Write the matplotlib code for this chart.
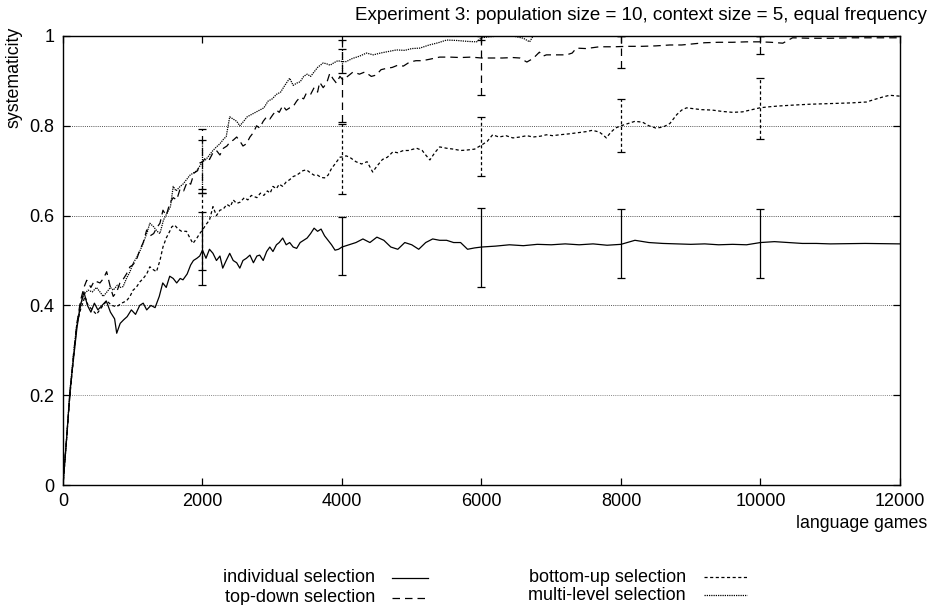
import matplotlib
matplotlib.use("Agg")
import matplotlib.pyplot as plt
from matplotlib.lines import Line2D

plt.rcParams['font.family'] = ['Liberation Sans', 'DejaVu Sans']

# individual selection (solid)
ind_x = [0, 50, 100, 150, 200, 250, 300, 350, 400, 450, 500, 560, 620, 680, 740, 770, 820, 870, 920, 980,
         1040, 1100, 1150, 1200, 1260, 1320, 1380, 1430, 1480, 1530, 1580, 1630, 1680, 1720, 1780, 1830, 1870,
         1920, 1960, 2000, 2050, 2100, 2150, 2200, 2250, 2290, 2340, 2390, 2440, 2490, 2535, 2580, 2630, 2680,
         2730, 2780, 2820, 2870, 2920, 2965, 3010, 3060, 3100, 3150, 3200, 3250, 3300, 3350, 3400, 3450, 3500,
         3550, 3600, 3650, 3700, 3750, 3800, 3850, 3900, 3950, 4000, 4100, 4200, 4300, 4400, 4500, 4600, 4700,
         4800, 4900, 5000, 5100, 5200, 5300, 5400, 5500, 5600, 5700, 5800, 5900, 6000, 6200, 6400, 6600, 6800,
         7000, 7200, 7400, 7600, 7800, 8000, 8200, 8400, 8600, 8800, 9000, 9200, 9400, 9600, 9800, 10000,
         10200, 10400, 10600, 10800, 11000, 11500, 12000]
ind_y = [0, 0.1, 0.21, 0.28, 0.35, 0.40, 0.43, 0.40, 0.385, 0.405, 0.39, 0.40, 0.41, 0.385, 0.37, 0.338, 0.36,
         0.368, 0.375, 0.39, 0.38, 0.40, 0.405, 0.39, 0.40, 0.395, 0.42, 0.45, 0.44, 0.465, 0.46, 0.45, 0.46,
         0.457, 0.47, 0.49, 0.50, 0.505, 0.51, 0.523, 0.505, 0.525, 0.516, 0.50, 0.51, 0.483, 0.50, 0.516, 0.50,
         0.495, 0.483, 0.50, 0.505, 0.512, 0.495, 0.51, 0.512, 0.50, 0.52, 0.53, 0.52, 0.535, 0.54, 0.55, 0.535,
         0.54, 0.53, 0.527, 0.54, 0.545, 0.55, 0.56, 0.572, 0.565, 0.57, 0.555, 0.545, 0.535, 0.523, 0.525, 0.53,
         0.535, 0.54, 0.548, 0.54, 0.552, 0.545, 0.53, 0.525, 0.54, 0.535, 0.525, 0.54, 0.548, 0.545, 0.545,
         0.54, 0.54, 0.525, 0.528, 0.53, 0.532, 0.535, 0.533, 0.536, 0.535, 0.537, 0.535, 0.537, 0.534, 0.536,
         0.545, 0.54, 0.538, 0.537, 0.536, 0.537, 0.535, 0.536, 0.535, 0.54, 0.542, 0.54, 0.538, 0.538, 0.537,
         0.538, 0.537]

# top-down selection (dashed)
td_x = [0, 50, 100, 150, 200, 250, 300, 340, 400, 450, 530, 580, 626, 680, 720, 770, 816, 870, 910, 960,
        1000, 1050, 1100, 1150, 1200, 1250, 1300, 1340, 1390, 1433, 1480, 1530, 1580, 1630, 1680, 1730, 1780,
        1830, 1880, 1930, 1960, 2000, 2050, 2100, 2150, 2200, 2250, 2300, 2350, 2400, 2440, 2490, 2540, 2580,
        2630, 2680, 2730, 2775, 2820, 2870, 2920, 2965, 3010, 3060, 3100, 3150, 3200, 3250, 3300, 3350, 3400,
        3450, 3490, 3550, 3600, 3650, 3680, 3730, 3780, 3825, 3870, 3920, 3970, 4015, 4080, 4160, 4250, 4330,
        4420, 4490, 4560, 4640, 4720, 4800, 4880, 4970, 5060, 5150, 5250, 5400, 5550, 5700, 5850, 6000, 6150,
        6300, 6450, 6550, 6650, 6740, 6830, 6880, 6930, 7100, 7220, 7300, 7360, 7500, 7690, 7900, 8100, 8300,
        8500, 8700, 8870, 9000, 9200, 9400, 9600, 9800, 9990, 10150, 10320, 10460, 10700, 11000, 11300,
        11600, 12000]
td_y = [0, 0.1, 0.2, 0.29, 0.36, 0.41, 0.44, 0.456, 0.44, 0.455, 0.45, 0.46, 0.475, 0.44, 0.42, 0.43, 0.45,
        0.46, 0.47, 0.486, 0.49, 0.50, 0.523, 0.54, 0.568, 0.555, 0.56, 0.572, 0.583, 0.612, 0.60, 0.627, 0.64,
        0.635, 0.66, 0.655, 0.675, 0.67, 0.695, 0.70, 0.717, 0.72, 0.73, 0.725, 0.74, 0.745, 0.735, 0.75,
        0.755, 0.765, 0.768, 0.775, 0.765, 0.755, 0.76, 0.775, 0.785, 0.80, 0.795, 0.81, 0.82, 0.815, 0.825,
        0.835, 0.83, 0.845, 0.835, 0.84, 0.843, 0.855, 0.864, 0.86, 0.873, 0.87, 0.885, 0.875, 0.897, 0.885,
        0.895, 0.917, 0.905, 0.895, 0.91, 0.902, 0.91, 0.92, 0.915, 0.92, 0.91, 0.913, 0.925, 0.928, 0.93,
        0.935, 0.933, 0.942, 0.945, 0.945, 0.948, 0.953, 0.953, 0.952, 0.953, 0.951, 0.951, 0.951, 0.952,
        0.951, 0.942, 0.95, 0.964, 0.955, 0.958, 0.958, 0.958, 0.962, 0.973, 0.972, 0.976, 0.976, 0.977,
        0.977, 0.978, 0.98, 0.98, 0.982, 0.985, 0.986, 0.986, 0.987, 0.987, 0.986, 0.984, 0.996, 0.995,
        0.995, 0.996, 0.996, 0.996]

# bottom-up selection (short dashes)
bu_x = [0, 50, 100, 150, 196, 250, 315, 360, 420, 480, 550, 626, 700, 770, 840, 910, 960, 1005, 1050, 1100,
        1150, 1200, 1245, 1290, 1340, 1390, 1433, 1480, 1530, 1560, 1600, 1650, 1700, 1770, 1820, 1863, 1920,
        1960, 2000, 2050, 2100, 2150, 2200, 2250, 2300, 2350, 2400, 2440, 2490, 2540, 2600, 2650, 2700, 2730,
        2780, 2830, 2880, 2930, 2970, 3010, 3060, 3100, 3150, 3200, 3250, 3300, 3350, 3395, 3440, 3490, 3550,
        3600, 3650, 3700, 3750, 3800, 3850, 3900, 3970, 4015, 4060, 4110, 4200, 4280, 4360, 4440, 4500, 4580,
        4650, 4730, 4800, 4880, 4950, 5070, 5150, 5200, 5260, 5330, 5400, 5500, 5600, 5700, 5790, 5900, 6000,
        6080, 6160, 6250, 6350, 6450, 6550, 6650, 6740, 6850, 6930, 7020, 7120, 7250, 7400, 7500, 7590, 7690,
        7740, 7790, 7850, 7920, 8000, 8100, 8200, 8310, 8400, 8500, 8600, 8700, 8800, 8870, 8940, 9050, 9150,
        9310, 9450, 9600, 9740, 9850, 9990, 10100, 10250, 10460, 10700, 10900, 11100, 11300, 11520, 11620,
        11750, 11850, 12000]
bu_y = [0, 0.1, 0.2, 0.28, 0.356, 0.39, 0.42, 0.40, 0.39, 0.38, 0.395, 0.41, 0.40, 0.397, 0.405, 0.41, 0.42,
        0.434, 0.44, 0.452, 0.46, 0.47, 0.486, 0.48, 0.475, 0.50, 0.53, 0.55, 0.565, 0.575, 0.579, 0.57, 0.565,
        0.565, 0.55, 0.538, 0.55, 0.56, 0.568, 0.58, 0.59, 0.62, 0.60, 0.612, 0.615, 0.625, 0.62, 0.635, 0.627,
        0.63, 0.64, 0.635, 0.645, 0.643, 0.64, 0.65, 0.645, 0.655, 0.65, 0.665, 0.66, 0.67, 0.665, 0.675, 0.68,
        0.687, 0.69, 0.695, 0.70, 0.702, 0.695, 0.69, 0.69, 0.685, 0.684, 0.69, 0.705, 0.715, 0.73, 0.731,
        0.733, 0.73, 0.72, 0.715, 0.72, 0.697, 0.71, 0.725, 0.73, 0.742, 0.74, 0.745, 0.745, 0.75, 0.745,
        0.735, 0.724, 0.74, 0.753, 0.75, 0.748, 0.745, 0.746, 0.748, 0.757, 0.765, 0.78, 0.775, 0.778, 0.773,
        0.775, 0.778, 0.775, 0.777, 0.78, 0.778, 0.78, 0.782, 0.785, 0.787, 0.79, 0.786, 0.78, 0.773, 0.785,
        0.795, 0.80, 0.805, 0.81, 0.808, 0.80, 0.795, 0.797, 0.805, 0.825, 0.835, 0.84, 0.838, 0.836, 0.835,
        0.832, 0.83, 0.831, 0.835, 0.84, 0.842, 0.844, 0.846, 0.848, 0.849, 0.85, 0.851, 0.853, 0.858, 0.864,
        0.868, 0.866]

# multi-level selection (dots)
ml_x = [0, 50, 100, 150, 200, 250, 300, 360, 420, 480, 530, 576, 630, 680, 720, 780, 820, 862, 910, 960,
        1005, 1050, 1100, 1148, 1200, 1245, 1300, 1350, 1390, 1440, 1490, 1540, 1580, 1620, 1680, 1720, 1770,
        1820, 1870, 1920, 1960, 2000, 2050, 2100, 2150, 2200, 2250, 2300, 2340, 2390, 2440, 2490, 2535, 2590,
        2640, 2700, 2760, 2820, 2880, 2940, 3000, 3060, 3120, 3180, 3250, 3300, 3350, 3400, 3450, 3500, 3550,
        3600, 3650, 3690, 3730, 3780, 3830, 3880, 3940, 4000, 4060, 4150, 4250, 4350, 4450, 4550, 4650, 4780,
        4900, 5000, 5115, 5250, 5380, 5500, 5650, 5800, 5930, 6000, 6100, 6260, 6450, 6600, 6690, 6740, 7000,
        8000, 9000, 10000, 11000, 12000]
ml_y = [0, 0.1, 0.21, 0.29, 0.36, 0.40, 0.425, 0.434, 0.43, 0.44, 0.43, 0.42, 0.43, 0.44, 0.434, 0.445, 0.44,
        0.442, 0.46, 0.475, 0.494, 0.505, 0.52, 0.538, 0.56, 0.583, 0.575, 0.565, 0.56, 0.59, 0.605, 0.62,
        0.665, 0.655, 0.665, 0.67, 0.68, 0.69, 0.695, 0.70, 0.71, 0.72, 0.725, 0.735, 0.745, 0.753, 0.76, 0.77,
        0.776, 0.82, 0.815, 0.81, 0.80, 0.81, 0.82, 0.825, 0.83, 0.835, 0.84, 0.855, 0.86, 0.87, 0.875, 0.89,
        0.906, 0.89, 0.895, 0.898, 0.91, 0.915, 0.91, 0.92, 0.93, 0.935, 0.94, 0.938, 0.935, 0.94, 0.945,
        0.943, 0.943, 0.95, 0.955, 0.962, 0.958, 0.962, 0.965, 0.969, 0.968, 0.972, 0.973, 0.98, 0.985, 0.991,
        0.99, 0.988, 0.987, 0.996, 0.998, 1.0, 1.0, 0.995, 0.987, 1.0, 1.0, 1.0, 1.0, 1.0, 1.0, 1.0]

# error bars (low, high) at these games
err_x = [2000, 4000, 6000, 8000, 10000]
ind_lo = [0.445, 0.467, 0.441, 0.461, 0.461]
ind_hi = [0.608, 0.597, 0.617, 0.615, 0.615]
td_lo = [0.65, 0.808, 0.869, 0.929, 0.96]
td_hi = [0.793, 0.99, 1.0, 1.0, 1.0]
bu_lo = [0.479, 0.648, 0.688, 0.742, 0.77]
bu_hi = [0.65, 0.804, 0.82, 0.86, 0.906]
ml_lo = [0.66, 0.918, 0.99, 1.0, 1.0]
ml_hi = [0.768, 0.97, 1.0, 1.0, 1.0]

labels = ['individual selection', 'top-down selection', 'bottom-up selection', 'multi-level selection']

styles = [
    dict(linestyle='-'),
    dict(linestyle=(0, (6, 4))),
    dict(linestyle=(0, (2.5, 2))),
    dict(linestyle=(0, (1, 0.8))),
]
series = [(ind_x, ind_y, ind_lo, ind_hi), (td_x, td_y, td_lo, td_hi),
          (bu_x, bu_y, bu_lo, bu_hi), (ml_x, ml_y, ml_lo, ml_hi)]

fig = plt.figure(figsize=(9.37, 6.05), dpi=100)
ax = fig.add_axes([63 / 937, 1 - 485 / 605, (900 - 63) / 937, (485 - 36) / 605])

lw = 0.9
for (xs, ys, lo, hi), st in zip(series, styles):
    ax.plot(xs, ys, color='black', lw=lw, **st)
    mid = [(a + b) / 2 for a, b in zip(lo, hi)]
    yerr = [[m - a for m, a in zip(mid, lo)], [b - m for m, b in zip(mid, hi)]]
    eb = ax.errorbar(err_x, mid, yerr=yerr, fmt='none', ecolor='black', elinewidth=lw,
                     capsize=3, capthick=lw)
    for col in eb[2]:
        col.set_linestyle(st['linestyle'])

ax.set_xlim(0, 12000)
ax.set_ylim(0, 1)
ax.set_xticks([0, 2000, 4000, 6000, 8000, 10000, 12000])
ax.set_yticks([0, 0.2, 0.4, 0.6, 0.8, 1])
ax.set_yticklabels(['0', '0.2', '0.4', '0.6', '0.8', '1'])
ax.tick_params(direction='in', length=5, width=0.9, top=True, right=True,
               labelsize=13, pad=6)
ax.axhline(0.2, color='#888888', lw=0.7, linestyle=(0, (1, 1.2)), zorder=0)
for y in [0.4, 0.6, 0.8]:
    ax.axhline(y, color='#555555', lw=0.7, linestyle=(0, (1, 1.2)), zorder=0)
for s in ax.spines.values():
    s.set_linewidth(1.0)

fig.text(927 / 937, 1 - 15 / 605, 'Experiment 3: population size = 10, context size = 5, equal frequency',
         ha='right', va='center', fontsize=13.5)
fig.text(927 / 937, 1 - 523 / 605, 'language games', ha='right', va='center', fontsize=12.8)
fig.text(14 / 937, 1 - 77 / 605, 'systematicity', rotation=90, ha='center', va='center', fontsize=12.8)

# legend laid out gnuplot-style: label then sample line
leg = [(375, 578, 392, 428), (375, 598, 392, 428), (686, 577, 704, 747), (686, 595, 704, 747)]
for lab, st, (tx, ty, x0, x1) in zip(labels, styles, leg):
    fig.text(tx / 937, 1 - ty / 605, lab, ha='right', va='center', fontsize=13)
    fig.add_artist(Line2D([x0 / 937, x1 / 937], [1 - ty / 605, 1 - ty / 605],
                          color='black', lw=lw, transform=fig.transFigure, **st))

fig.savefig('out.png', dpi=100)
